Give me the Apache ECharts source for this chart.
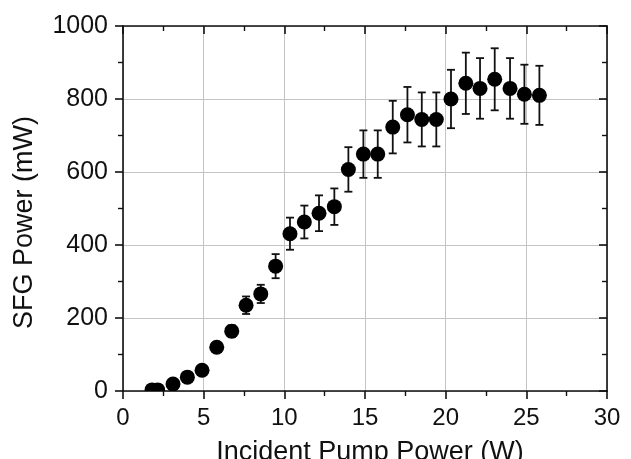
<!DOCTYPE html>
<html><head><meta charset="utf-8">
<script src="https://cdn.jsdelivr.net/npm/echarts@6/dist/echarts.min.js"></script>
<style>html,body{margin:0;padding:0;background:#fff}#c{width:631px;height:459px}</style>
</head><body><div id="c"></div>
<script>
const pumpPower = [1.80,2.15,3.10,3.99,4.90,5.81,6.74,7.63,8.54,9.46,10.35,11.24,12.15,13.10,13.97,14.90,15.79,16.72,17.63,18.52,19.42,20.33,21.25,22.13,23.04,23.99,24.88,25.81];
const sfgPower = [3,3,19,38,57,120,164,235,266,342,431,463,487,505,607,649,649,723,757,744,744,800,843,829,854,829,813,810];
const sfgError = [1,1,2,4,6,12,16,24,25,33,44,45,49,50,61,65,65,72,76,74,74,80,84,83,85,83,81,81];
const xTicks = [0,5,10,15,20,25,30];
const yTicks = [0,200,400,600,800,1000];

const font = 'Liberation Sans, Arial, sans-serif';
const chart = echarts.init(document.getElementById('c'), null, {renderer:'canvas'});
const pts = pumpPower.map((x,i)=>[x, sfgPower[i]]);
const errData = pumpPower.map((x,i)=>[x, sfgPower[i]-sfgError[i], sfgPower[i]+sfgError[i]]);
const axisLineStyle = {color:'#111', width:1.6};
function clipRect(params){
  const cs = params.coordSys;
  return {type:'rect', shape:{x:cs.x, y:cs.y, width:cs.width, height:cs.height}};
}
chart.setOption({
  animation:false,
  grid:{left:123, right:24, top:26, bottom:68, containLabel:false, outerBoundsMode:'none'},
  xAxis:[{
    type:'value', min:xTicks[0], max:xTicks[xTicks.length-1], interval:5,
    name:'Incident Pump Power (W)', nameLocation:'middle', nameGap:48,
    nameTextStyle:{fontFamily:font, fontSize:27, color:'#111', padding:[0,0,0,10]},
    axisLine:{show:true, onZero:false, lineStyle:axisLineStyle},
    axisTick:{show:true, inside:false, length:8, lineStyle:axisLineStyle},
    minorTick:{show:true, splitNumber:2, length:5, lineStyle:{color:'#111', width:1.4}},
    axisLabel:{fontFamily:font, fontSize:24, color:'#111', margin:15, formatter:v=>String(v)},
    splitLine:{show:true, lineStyle:{color:'#c4c4c4', width:1}}
  },{
    type:'value', position:'top', min:xTicks[0], max:xTicks[xTicks.length-1], interval:5,
    axisLine:{show:true, onZero:false, lineStyle:axisLineStyle},
    axisTick:{show:true, inside:true, length:8, lineStyle:axisLineStyle},
    minorTick:{show:true, splitNumber:2, length:5, lineStyle:{color:'#111', width:1.4}},
    axisLabel:{show:false}, splitLine:{show:false}
  }],
  yAxis:[{
    type:'value', min:yTicks[0], max:yTicks[yTicks.length-1], interval:200,
    name:'SFG Power (mW)', nameLocation:'middle', nameGap:85, nameRotate:90,
    nameTextStyle:{fontFamily:font, fontSize:27, color:'#111', padding:[0,28,0,0]},
    axisLine:{show:true, onZero:false, lineStyle:axisLineStyle},
    axisTick:{show:true, inside:false, length:8, lineStyle:axisLineStyle},
    minorTick:{show:true, splitNumber:2, length:5, lineStyle:{color:'#111', width:1.4}},
    axisLabel:{fontFamily:font, fontSize:25, color:'#111', margin:15, formatter:v=>String(v)},
    splitLine:{show:true, lineStyle:{color:'#c4c4c4', width:1}}
  },{
    type:'value', position:'right', min:yTicks[0], max:yTicks[yTicks.length-1], interval:200,
    axisLine:{show:true, onZero:false, lineStyle:axisLineStyle},
    axisTick:{show:true, inside:true, length:8, lineStyle:axisLineStyle},
    minorTick:{show:true, splitNumber:2, length:5, lineStyle:{color:'#111', width:1.4}},
    axisLabel:{show:false}, splitLine:{show:false}
  }],
  series:[{
    name:'error', type:'custom', z:2,
    renderItem:function(params, api){
      const x = api.value(0), lo = api.value(1), hi = api.value(2);
      const pLo = api.coord([x, lo]), pHi = api.coord([x, hi]);
      const hw = 4;
      const st = {stroke:'#111', lineWidth:1.8};
      return {type:'group', clipPath:clipRect(params), children:[
        {type:'line', shape:{x1:pLo[0], y1:pLo[1], x2:pHi[0], y2:pHi[1]}, style:st},
        {type:'line', shape:{x1:pLo[0]-hw, y1:pLo[1], x2:pLo[0]+hw, y2:pLo[1]}, style:st},
        {type:'line', shape:{x1:pHi[0]-hw, y1:pHi[1], x2:pHi[0]+hw, y2:pHi[1]}, style:st}
      ]};
    },
    encode:{x:0, y:[1,2]},
    data:errData
  },{
    name:'SFG power', type:'custom', z:3,
    renderItem:function(params, api){
      const p = api.coord([api.value(0), api.value(1)]);
      return {type:'group', clipPath:clipRect(params), children:[
        {type:'circle', shape:{cx:p[0], cy:p[1], r:7.5}, style:{fill:'#000'}}
      ]};
    },
    encode:{x:0, y:1},
    data:pts
  }]
});
</script></body></html>
